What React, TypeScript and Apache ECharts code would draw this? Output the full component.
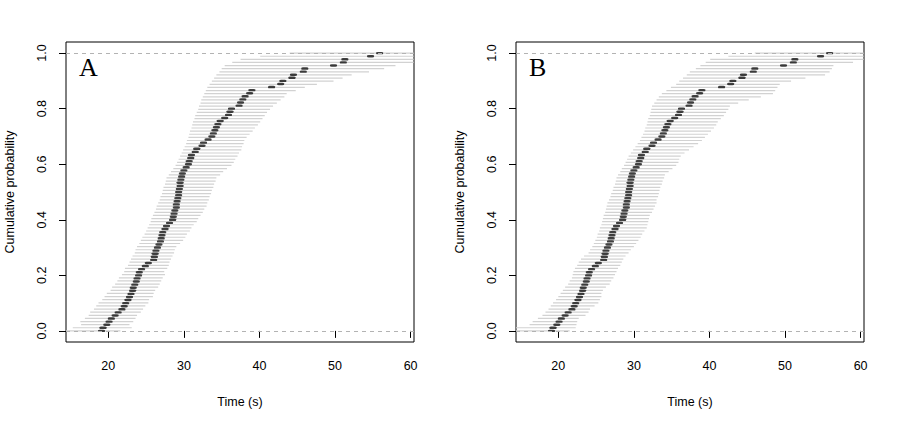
import React, { useEffect, useRef } from "react";
import * as echarts from "echarts";

// Observed (sorted) times, plotted as an ECDF at levels i/(n-1)
const observedTimes = [
  19.1, 19.3, 19.8, 20.1, 20.4, 20.9, 21.3, 21.8, 22.1, 22.3, 22.6, 22.8, 23.0, 23.2, 23.3,
  23.5, 23.7, 23.8, 24.0, 24.1, 24.4, 24.9, 25.3, 26.0, 26.1, 26.2,
  26.3, 26.5, 26.7, 26.9, 27.0, 27.1, 27.2, 27.5, 27.7, 28.1, 28.5, 28.6, 28.7, 28.8, 29.0,
  29.0, 29.1, 29.2, 29.3, 29.3, 29.4, 29.5, 29.5, 29.6, 29.7, 29.8, 30.0, 30.3, 30.6,
  30.7, 30.9, 31.0, 31.5, 31.7, 32.4, 32.6, 33.2, 33.7, 33.9, 34.1, 34.3, 34.5, 34.8, 35.4,
  35.9, 36.1, 36.3, 37.3, 37.5, 37.8, 38.1, 38.7, 39.0,
  41.6, 42.8, 43.1, 44.3, 44.5, 45.8, 46.0, 49.8, 51.1, 51.3, 54.7, 55.9,
];

// Grey envelope of simulated ECDFs, panel A (left / right end per level)
const bandALower = [
  14.4, 15.3, 16.4, 16.3, 16.9, 17.4, 17.6, 18.1, 18.4, 18.7, 19.2, 19.5, 19.8, 20.3, 20.5,
  20.9, 21.2, 21.4, 21.8, 22.1, 22.2, 22.6, 22.8, 23.0, 23.2, 23.5, 23.6, 23.8, 24.1, 24.3,
  24.5, 24.8, 25.0, 25.2, 25.4, 25.6, 25.7, 25.9, 26.1, 26.3, 26.4, 26.6, 26.8, 26.9, 27.1,
  27.2, 27.3, 27.5, 27.6, 27.7, 28.0, 28.3, 28.6, 28.9, 29.1, 29.3, 29.5, 29.7, 29.9, 30.1,
  30.3, 30.4, 30.6, 30.7, 30.8, 31.0, 31.1, 31.2, 31.4, 31.5, 31.7, 31.9, 32.0, 32.2, 32.3,
  32.5, 32.7, 32.9, 33.1, 33.4, 33.7, 34.0, 34.3, 34.7, 35.0, 35.4, 36.4, 37.5, 40.1, 44.0,
];
const bandAUpper = [
  21.6, 23.1, 22.8, 23.3, 23.6, 23.8, 24.3, 24.6, 24.9, 25.3, 25.4, 25.9, 26.0, 26.2, 26.6,
  26.8, 27.0, 27.2, 27.5, 27.4, 27.8, 28.0, 28.1, 28.3, 28.5, 28.7, 28.8, 29.0, 29.5, 29.9,
  30.2, 30.4, 30.8, 31.0, 31.3, 31.7, 31.9, 32.2, 32.5, 32.7, 33.0, 33.1, 33.3, 33.4, 33.6,
  33.7, 33.9, 34.0, 34.2, 34.3, 34.8, 35.2, 35.7, 36.3, 36.6, 36.8, 37.1, 37.3, 37.6, 37.7,
  37.9, 38.0, 38.3, 38.7, 39.1, 39.4, 39.8, 40.1, 40.4, 40.7, 41.0, 41.4, 41.8, 42.3, 42.8,
  43.3, 43.6, 44.8, 46.0, 47.6, 49.8, 51.0, 52.2, 54.5, 56.5, 58.0, 60.4, 60.4, 60.4, 60.4,
];

// Grey envelope of simulated ECDFs, panel B
const bandBLower = [
  14.4, 14.4, 16.2, 16.6, 17.3, 17.9, 18.3, 18.7, 19.0, 19.3, 19.7, 20.0, 20.3, 20.6, 20.9,
  21.3, 21.5, 21.8, 21.9, 22.0, 22.2, 22.5, 22.7, 23.0, 23.4, 24.0, 24.2, 24.5, 24.7, 24.9,
  25.1, 25.2, 25.4, 25.5, 25.7, 25.8, 25.9, 26.0, 26.2, 26.3, 26.4, 26.5, 26.7, 26.9, 27.0,
  27.2, 27.3, 27.5, 27.6, 27.7, 27.9, 28.2, 28.4, 28.7, 28.9, 29.1, 29.3, 29.6, 29.9, 30.2,
  30.5, 30.8, 31.0, 31.2, 31.4, 31.5, 31.7, 31.8, 31.9, 32.1, 32.2, 32.3, 32.4, 32.7, 33.0,
  33.3, 33.7, 34.3, 34.9, 35.6, 36.0, 36.5, 37.0, 37.4, 38.2, 38.8, 39.5, 40.1, 42.5, 46.0,
];
const bandBUpper = [
  21.5, 22.3, 22.4, 22.5, 22.7, 23.6, 24.0, 24.2, 24.8, 25.3, 25.5, 25.7, 25.7, 25.9, 26.3,
  26.8, 27.0, 27.3, 27.5, 27.7, 27.9, 28.2, 28.4, 28.6, 28.9, 29.3, 29.6, 30.0, 30.3, 30.6,
  30.9, 31.1, 31.4, 31.7, 31.8, 31.9, 32.0, 32.1, 32.4, 32.6, 32.8, 33.0, 33.0, 33.2, 33.3,
  33.4, 33.5, 33.7, 33.8, 34.0, 34.1, 34.6, 35.1, 35.6, 35.9, 36.0, 36.2, 36.7, 37.3, 37.9,
  38.5, 39.0, 39.4, 39.8, 40.2, 40.6, 40.9, 41.1, 41.5, 41.9, 42.2, 42.5, 42.7, 43.8, 45.2,
  46.8, 48.4, 48.7, 49.0, 49.3, 50.8, 52.7, 55.3, 55.9, 56.2, 56.4, 59.0, 60.4, 60.4, 60.4,
];

const xTicks = [20, 30, 40, 50, 60];
const yTicks = [0, 0.2, 0.4, 0.6, 0.8, 1.0];
const referenceLevels = [0, 1];
const panelLabels = ["A", "B"];
const xTitle = "Time (s)";
const yTitle = "Cumulative probability";

const X_MIN = 14.4;
const X_MAX = 60.45;
const Y_MIN = -0.04;
const Y_MAX = 1.04;

const FONT = '"Liberation Sans", Arial, sans-serif';
const FS = 12.5;

function bandData(lower: number[], upper: number[]) {
  const n = lower.length;
  return lower.map((lo, i) => [lo, upper[i], i / (n - 1)]);
}

function ecdfData(times: number[]) {
  const n = times.length;
  return times.map((t, i) => [t, i / (n - 1)]);
}

export default function App() {
  const ref = useRef<HTMLDivElement>(null);

  useEffect(() => {
    if (!ref.current) return;
    const chart = echarts.init(ref.current, null, { renderer: "svg" });

    const grids = [
      { left: 66, top: 42, width: 348, height: 300 },
      { left: 516, top: 42, width: 348, height: 300 },
    ];
    const bands = [bandData(bandALower, bandAUpper), bandData(bandBLower, bandBUpper)];

    const series: any[] = [];
    grids.forEach((_, g) => {
      series.push({
        type: "scatter",
        xAxisIndex: g,
        yAxisIndex: g,
        data: [],
        silent: true,
        z: 1,
        markLine: {
          silent: true,
          symbol: "none",
          label: { show: false },
          lineStyle: { color: "#b3b3b3", type: [4, 4], width: 1 },
          data: referenceLevels.map((v) => ({ yAxis: v })),
        },
      });
      series.push({
        type: "custom",
        xAxisIndex: g,
        yAxisIndex: g,
        z: 2,
        clip: true,
        silent: true,
        encode: { x: [0, 1], y: 2 },
        data: bands[g],
        renderItem: (params: any, api: any) => {
          const a = api.coord([api.value(0), api.value(2)]);
          const b = api.coord([api.value(1), api.value(2)]);
          return {
            type: "line",
            shape: { x1: a[0], y1: a[1], x2: b[0], y2: b[1] },
            style: { stroke: "#d2d2d2", lineWidth: 1.2 },
          };
        },
      });
      series.push({
        type: "scatter",
        xAxisIndex: g,
        yAxisIndex: g,
        z: 3,
        silent: true,
        symbol: "roundRect",
        symbolSize: [7, 2.4],
        itemStyle: { color: "#111" },
        data: ecdfData(observedTimes),
      });
    });

    chart.setOption({
      animation: false,
      backgroundColor: "#ffffff",
      grid: grids.map((g) => ({
        ...g,
        show: true,
        borderColor: "#000",
        borderWidth: 1,
        backgroundColor: "transparent",
      })),
      xAxis: grids.map((_, g) => ({
        gridIndex: g,
        type: "value",
        min: X_MIN,
        max: X_MAX,
        axisLine: { show: false },
        splitLine: { show: false },
        axisTick: {
          show: true,
          length: 7,
          customValues: xTicks,
          lineStyle: { color: "#000", width: 1 },
        },
        axisLabel: {
          customValues: xTicks,
          margin: 17,
          fontSize: FS,
          color: "#000",
          fontFamily: FONT,
        },
        name: xTitle,
        nameLocation: "middle",
        nameGap: 53,
        nameTextStyle: { fontSize: FS, color: "#000", fontFamily: FONT },
      })),
      yAxis: grids.map((_, g) => ({
        gridIndex: g,
        type: "value",
        min: Y_MIN,
        max: Y_MAX,
        axisLine: { show: false },
        splitLine: { show: false },
        axisTick: {
          show: true,
          length: 7,
          customValues: yTicks,
          lineStyle: { color: "#000", width: 1 },
        },
        axisLabel: {
          customValues: yTicks,
          rotate: 90,
          margin: 18,
          fontSize: FS,
          color: "#000",
          fontFamily: FONT,
          formatter: (v: number) => v.toFixed(1),
        },
        name: yTitle,
        nameLocation: "middle",
        nameGap: 50,
        nameTextStyle: { fontSize: FS, color: "#000", fontFamily: FONT },
      })),
      graphic: panelLabels.map((label, g) => ({
        type: "text",
        x: grids[g].left + 13,
        y: 67,
        silent: true,
        style: {
          text: label,
          fontFamily: '"Liberation Serif", "DejaVu Serif", serif',
          fontSize: 26,
          fill: "#000",
          verticalAlign: "middle",
          align: "left",
        },
      })),
      series,
    });

    return () => chart.dispose();
  }, []);

  return (
    <div
      ref={ref}
      style={{ position: "fixed", left: 0, top: 0, width: 900, height: 429, background: "#fff" }}
    />
  );
}
